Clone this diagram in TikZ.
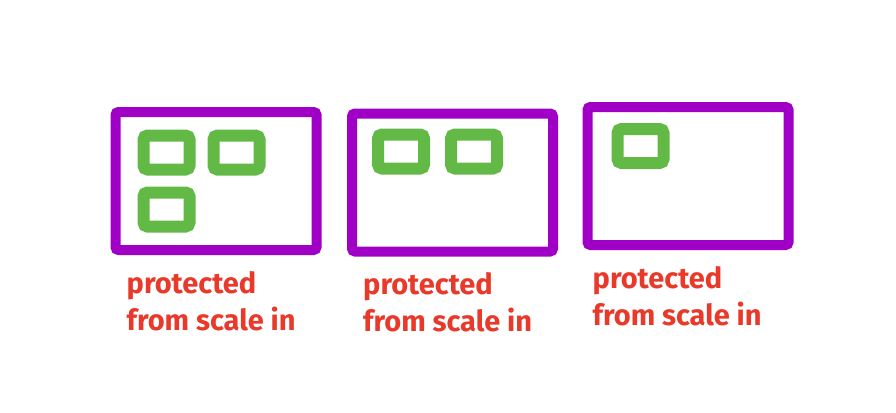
\documentclass[tikz,border=0pt]{standalone}
\usepackage{fontspec}
\setmainfont{Fira Sans}
\usetikzlibrary{positioning}

\definecolor{hostpurple}{HTML}{A000C6}
\definecolor{taskgreen}{HTML}{62B946}
\definecolor{notered}{HTML}{E8392A}

\tikzset{
  host/.style={draw=hostpurple, line width=10pt, rounded corners=3pt,
    minimum width=201pt, minimum height=138pt, inner sep=0pt},
  task/.style={draw=taskgreen, line width=12pt, rounded corners=4pt,
    minimum width=46pt, minimum height=34pt, inner sep=0pt},
  note/.style={text=notered, align=left, inner sep=0pt,
    font=\fontsize{29}{37}\selectfont\bfseries}
}

\begin{document}
\begin{tikzpicture}[x=1pt, y=-1pt]
    \useasboundingbox (0,0) rectangle (896,412);

    % instances
    \node[host] (h1) at (216,181) {};
    \node[host] (h2) at (452.5,182.5) {};
    \node[host] (h3) at (688,176) {};

    % tasks on each instance
    \node[task] (t11) at (166.5,152.5) {};
    \node[task] (t12) [right=12pt of t11] {};
    \node[task] (t13) [below=11pt of t11] {};
    \node[task] (t21) at (401,151.5) {};
    \node[task] (t22) [right=15pt of t21] {};
    \node[task] (t31) at (640.5,146) {};

    % notes
    \node[note] (n1) [below right=16pt and 16pt of h1.south west] {protected\\from scale in};
    \node[note] (n2) [below right=16pt and 16pt of h2.south west] {protected\\from scale in};
    \node[note] (n3) [below right=16pt and 10pt of h3.south west] {protected\\from scale in};
\end{tikzpicture}
\end{document}
